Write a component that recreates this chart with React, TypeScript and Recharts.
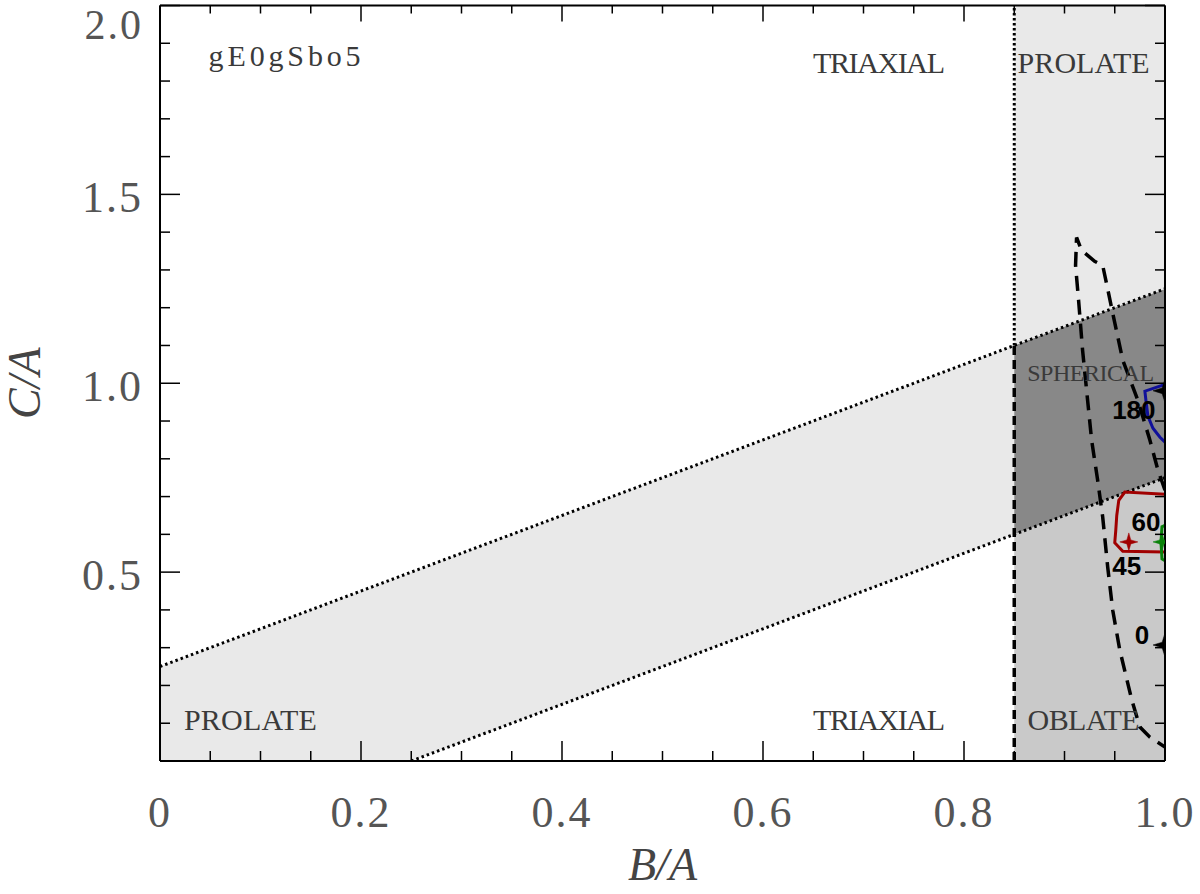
import React from 'react';
import { ComposedChart, XAxis, YAxis, Area, Line, Scatter } from 'recharts';

// ---------- axis ticks ----------
const xTicks = [0, 0.05, 0.1, 0.15, 0.2, 0.25, 0.3, 0.35, 0.4, 0.45, 0.5, 0.55, 0.6, 0.65, 0.7, 0.75, 0.8, 0.85, 0.9, 0.95, 1.0];
const xMajor = [0, 0.2, 0.4, 0.6, 0.8, 1.0];
const xLabels = ['0', '0.2', '0.4', '0.6', '0.8', '1.0'];
const yTicks = [0, 0.1, 0.2, 0.3, 0.4, 0.5, 0.6, 0.7, 0.8, 0.9, 1.0, 1.1, 1.2, 1.3, 1.4, 1.5, 1.6, 1.7, 1.8, 1.9, 2.0];
const yMajor = [0.5, 1.0, 1.5, 2.0];
const yLabels = ['0.5', '1.0', '1.5', '2.0'];

// ---------- shaded zones (range = [low, high]) ----------
const bandZone = [
  { x: 0, r: [0, 0.25] },
  { x: 0.25, r: [0, 0.5] },
  { x: 0.85, r: [0.6, 1.1] },
];
const oblateZone = [
  { x: 0.85, r: [0, 0.6] },
  { x: 1.0, r: [0, 0.75] },
];
const sphericalZone = [
  { x: 0.85, r: [0.6, 1.1] },
  { x: 1.0, r: [0.75, 1.25] },
];
const prolateZone = [
  { x: 0.85, r: [1.1, 2.0] },
  { x: 1.0, r: [1.25, 2.0] },
];

// ---------- boundary lines ----------
const upperLine = [{ x: 0, y: 0.25 }, { x: 1.0, y: 1.25 }];
const lowerLine = [{ x: 0.25, y: 0 }, { x: 1.0, y: 0.75 }];
const vDotted = [{ x: 0.85, y: 1.1 }, { x: 0.85, y: 2.0 }];
const vDashed = [{ x: 0.85, y: 0 }, { x: 0.85, y: 1.1 }];

// ---------- contours ----------
const dashedContour = [
  { x: 1.0, y: 0.717 }, { x: 0.993, y: 0.77 }, { x: 0.985, y: 0.849 }, { x: 0.973, y: 0.955 },
  { x: 0.958, y: 1.061 }, { x: 0.948, y: 1.185 }, { x: 0.943, y: 1.249 }, { x: 0.938, y: 1.312 },
  { x: 0.93, y: 1.323 }, { x: 0.917, y: 1.352 }, { x: 0.912, y: 1.386 },
  { x: 0.911, y: 1.312 }, { x: 0.914, y: 1.22 }, { x: 0.918, y: 1.087 }, { x: 0.922, y: 0.981 },
  { x: 0.927, y: 0.849 }, { x: 0.933, y: 0.743 }, { x: 0.938, y: 0.646 }, { x: 0.943, y: 0.513 },
  { x: 0.948, y: 0.399 }, { x: 0.955, y: 0.294 }, { x: 0.967, y: 0.161 }, { x: 0.975, y: 0.09 },
  { x: 0.985, y: 0.063 }, { x: 1.0, y: 0.037 },
];
const blueContour = [
  { x: 1.0, y: 0.997 }, { x: 0.98, y: 0.979 }, { x: 0.981, y: 0.955 }, { x: 0.983, y: 0.913 },
  { x: 0.988, y: 0.881 }, { x: 0.995, y: 0.857 }, { x: 1.0, y: 0.844 },
];
const redContour = [
  { x: 1.0, y: 0.706 }, { x: 0.96, y: 0.712 }, { x: 0.954, y: 0.69 }, { x: 0.952, y: 0.65 },
  { x: 0.951, y: 0.61 }, { x: 0.95, y: 0.578 }, { x: 0.958, y: 0.555 }, { x: 1.0, y: 0.553 },
];
const greenContour = [
  { x: 1.0, y: 0.624 }, { x: 0.997, y: 0.62 }, { x: 0.996, y: 0.58 }, { x: 0.997, y: 0.535 }, { x: 1.0, y: 0.53 },
];

// ---------- markers ----------
const blackStars = [{ x: 1.0, y: 0.98 }, { x: 1.0, y: 0.307 }];
const redStars = [{ x: 0.964, y: 0.58 }];
const greenStars = [{ x: 0.997, y: 0.58 }];

// ---------- annotations ----------
const angleLabels = [
  { x: 0.969, y: 0.905, t: '180' },
  { x: 0.981, y: 0.608, t: '60' },
  { x: 0.962, y: 0.492, t: '45' },
  { x: 0.977, y: 0.31, t: '0' },
];
const regionLabels = [
  { x: 0.124, y: 1.841, t: 'gE0gSbo5', w: 152, fs: 30 },
  { x: 0.7154, y: 1.82, t: 'TRIAXIAL', w: 132, fs: 30 },
  { x: 0.919, y: 1.82, t: 'PROLATE', w: 132, fs: 30 },
  { x: 0.926, y: 1.005, t: 'SPHERICAL', w: 127, fs: 24 },
  { x: 0.09, y: 0.082, t: 'PROLATE', w: 133, fs: 30 },
  { x: 0.7154, y: 0.082, t: 'TRIAXIAL', w: 132, fs: 30 },
  { x: 0.919, y: 0.082, t: 'OBLATE', w: 112, fs: 30 },
];

const SERIF = "'Liberation Serif', 'DejaVu Serif', serif";
const SANS = "'Liberation Sans', Arial, sans-serif";

const idxOf = (arr: number[], v: number) => arr.findIndex((m) => Math.abs(m - v) < 1e-6);

const BottomTick = (p: any) => {
  const { x, y, payload } = p;
  const i = idxOf(xMajor, payload.value);
  const len = i >= 0 ? 20 : 10;
  return (
    <g>
      <line x1={x} x2={x} y1={y} y2={y - len} stroke="#000" strokeWidth={1.5} />
      {i >= 0 && (
        <text x={x} y={y + 66} textAnchor="middle" fontFamily={SERIF} fontSize={44} fill="#555" letterSpacing={2}>
          {xLabels[i]}
        </text>
      )}
    </g>
  );
};
const TopTick = (p: any) => {
  const { x, y, payload } = p;
  const len = idxOf(xMajor, payload.value) >= 0 ? 16 : 8;
  return <line x1={x} x2={x} y1={y} y2={y + len} stroke="#000" strokeWidth={1.5} />;
};
const LeftTick = (p: any) => {
  const { x, y, payload } = p;
  const i = idxOf(yMajor, payload.value);
  const len = i >= 0 ? 20 : 10;
  const top = payload.value > 1.95;
  return (
    <g>
      <line x1={x} x2={x + len} y1={y} y2={y} stroke="#000" strokeWidth={1.5} />
      {i >= 0 && (
        <text x={x - 17} y={y + (top ? 33 : 18)} textAnchor="end" fontFamily={SERIF} fontSize={top ? 42 : 44} fill="#555" letterSpacing={2}>
          {yLabels[i]}
        </text>
      )}
    </g>
  );
};
const RightTick = (p: any) => {
  const { x, y, payload } = p;
  const len = idxOf(yMajor, payload.value) >= 0 ? 20 : 10;
  return <line x1={x} x2={x - len} y1={y} y2={y} stroke="#000" strokeWidth={1.5} />;
};

const starPath = (cx: number, cy: number, R: number, r: number) => {
  const pts: string[] = [];
  for (let k = 0; k < 8; k++) {
    const a = (Math.PI / 4) * k;
    const rad = k % 2 === 0 ? R : r;
    pts.push(`${cx + rad * Math.cos(a)},${cy - rad * Math.sin(a)}`);
  }
  return 'M' + pts.join('L') + 'Z';
};
const makeStar = (color: string, R: number, r: number) => (p: any) => (
  <path d={starPath(p.cx, p.cy, R, r)} fill={color} stroke={color} strokeWidth={0.5} />
);

const AngleText = (p: any) => (
  <text x={p.cx} y={p.cy} textAnchor="middle" fontFamily={SANS} fontWeight="bold" fontSize={26} fill="#000">
    {p.payload.t}
  </text>
);
const RegionText = (p: any) => (
  <text
    x={p.cx}
    y={p.cy}
    textAnchor="middle"
    fontFamily={SERIF}
    fontSize={p.payload.fs}
    fill="#3a3a3a"
    textLength={p.payload.w}
    lengthAdjust="spacing"
  >
    {p.payload.t}
  </text>
);

const XLabel = (p: any) => {
  const vb = p.viewBox;
  return (
    <text x={vb.x + vb.width / 2} y={vb.y + 119} textAnchor="middle" fontFamily={SERIF} fontStyle="italic" fontSize={46} fill="#444">
      B/A
    </text>
  );
};
const YLabel = (p: any) => {
  const vb = p.viewBox;
  const cx = 40;
  const cy = vb.y + vb.height / 2;
  return (
    <text x={cx} y={cy} transform={`rotate(-90 ${cx} ${cy})`} textAnchor="middle" fontFamily={SERIF} fontStyle="italic" fontSize={46} fill="#444">
      C/A
    </text>
  );
};

export default function App() {
  return (
    <div style={{ position: 'absolute', left: 0, top: 0, width: 1200, height: 894, background: '#fff' }}>
      <ComposedChart width={1200} height={894} margin={{ top: 4.5, right: 34, bottom: 33, left: 0 }}>
        <XAxis
          dataKey="x"
          type="number"
          domain={[0, 1]}
          ticks={xTicks}
          interval={0}
          allowDataOverflow
          height={100}
          tickSize={0}
          tickMargin={0}
          tickLine={false}
          axisLine={{ stroke: '#000', strokeWidth: 2 }}
          tick={<BottomTick />}
          label={{ content: <XLabel /> }}
        />
        <XAxis
          xAxisId="top"
          orientation="top"
          dataKey="x"
          type="number"
          domain={[0, 1]}
          ticks={xTicks}
          interval={0}
          allowDataOverflow
          height={1}
          tickSize={0}
          tickMargin={0}
          tickLine={false}
          axisLine={{ stroke: '#000', strokeWidth: 2 }}
          tick={<TopTick />}
        />
        <YAxis
          dataKey="y"
          type="number"
          domain={[0, 2]}
          ticks={yTicks}
          interval={0}
          allowDataOverflow
          width={160}
          tickSize={0}
          tickMargin={0}
          tickLine={false}
          axisLine={{ stroke: '#000', strokeWidth: 2 }}
          tick={<LeftTick />}
          label={{ content: <YLabel /> }}
        />
        <YAxis
          yAxisId="right"
          orientation="right"
          dataKey="y"
          type="number"
          domain={[0, 2]}
          ticks={yTicks}
          interval={0}
          allowDataOverflow
          width={1}
          tickSize={0}
          tickMargin={0}
          tickLine={false}
          axisLine={{ stroke: '#000', strokeWidth: 2 }}
          tick={<RightTick />}
        />

        <Area data={bandZone} dataKey="r" type="linear" stroke="none" fill="#e9e9e9" fillOpacity={1} isAnimationActive={false} activeDot={false} />
        <Area data={oblateZone} dataKey="r" type="linear" stroke="none" fill="#c9c9c9" fillOpacity={1} isAnimationActive={false} activeDot={false} />
        <Area data={sphericalZone} dataKey="r" type="linear" stroke="none" fill="#888888" fillOpacity={1} isAnimationActive={false} activeDot={false} />
        <Area data={prolateZone} dataKey="r" type="linear" stroke="none" fill="#e9e9e9" fillOpacity={1} isAnimationActive={false} activeDot={false} />

        <Line xAxisId="top" yAxisId="right" data={upperLine} dataKey="y" stroke="#000" strokeOpacity={0} dot={false} activeDot={false} isAnimationActive={false} />

        <Line data={upperLine} dataKey="y" type="linear" stroke="#000" strokeWidth={3} strokeDasharray="2.5 3" dot={false} activeDot={false} isAnimationActive={false} />
        <Line data={lowerLine} dataKey="y" type="linear" stroke="#000" strokeWidth={3} strokeDasharray="2.5 3" dot={false} activeDot={false} isAnimationActive={false} />
        <Line data={vDotted} dataKey="y" type="linear" stroke="#000" strokeWidth={3} strokeDasharray="2.5 2.5" dot={false} activeDot={false} isAnimationActive={false} />
        <Line data={vDashed} dataKey="y" type="linear" stroke="#000" strokeWidth={3.5} strokeDasharray="9 5" dot={false} activeDot={false} isAnimationActive={false} />

        <Line data={dashedContour} dataKey="y" type="linear" stroke="#000" strokeWidth={3.5} strokeDasharray="15 9" dot={false} activeDot={false} isAnimationActive={false} />
        <Line data={blueContour} dataKey="y" type="linear" stroke="#10109a" strokeWidth={3} dot={false} activeDot={false} isAnimationActive={false} />
        <Line data={redContour} dataKey="y" type="linear" stroke="#a00000" strokeWidth={3} dot={false} activeDot={false} isAnimationActive={false} />
        <Line data={greenContour} dataKey="y" type="linear" stroke="#0a820a" strokeWidth={3} dot={false} activeDot={false} isAnimationActive={false} />

        <Scatter data={blackStars} dataKey="y" shape={makeStar('#000', 12, 4)} isAnimationActive={false} />
        <Scatter data={redStars} dataKey="y" shape={makeStar('#a00000', 9, 2.8)} isAnimationActive={false} />
        <Scatter data={greenStars} dataKey="y" shape={makeStar('#0a820a', 9, 2.8)} isAnimationActive={false} />

        <Scatter data={angleLabels} dataKey="y" shape={AngleText} isAnimationActive={false} />
        <Scatter data={regionLabels} dataKey="y" shape={RegionText} isAnimationActive={false} />
      </ComposedChart>
    </div>
  );
}
